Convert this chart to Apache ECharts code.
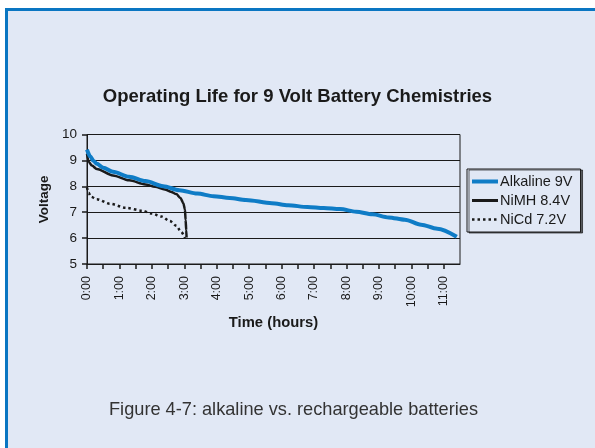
<!DOCTYPE html>
<html>
<head>
<meta charset="utf-8">
<style>
  html, body { margin: 0; padding: 0; background: #ffffff; }
  #chart { width: 595px; height: 448px; }
</style>
<script src="https://cdn.jsdelivr.net/npm/echarts@6/dist/echarts.min.js"></script>
</head>
<body>
<div id="chart"></div>
<script>
// Discharge curves: [hours, volts]
const alkaline9V = [
  [0, 9.42], [0.1, 9.15], [0.2, 8.98], [0.3, 8.87], [0.5, 8.72], [0.8, 8.56],
  [1.3, 8.37], [1.8, 8.2], [2.35, 8.0], [2.85, 7.85], [3.4, 7.72], [3.9, 7.62],
  [4.4, 7.55], [4.9, 7.47], [5.7, 7.35], [6.2, 7.27], [6.8, 7.2], [7.3, 7.16],
  [7.8, 7.12], [8.3, 7.02], [8.8, 6.92], [9.3, 6.8], [9.8, 6.71], [10.3, 6.52],
  [10.8, 6.36], [11.4, 6.05]
];
const nimh84V = [
  [0, 9.25], [0.05, 8.95], [0.15, 8.8], [0.3, 8.67], [0.8, 8.42], [1.3, 8.23],
  [1.8, 8.07], [2.1, 7.98], [2.4, 7.88], [2.6, 7.78], [2.75, 7.7], [2.88, 7.55],
  [2.97, 7.35], [3.02, 7.1], [3.04, 6.7], [3.06, 6.3], [3.07, 6.02]
];
const nicd72V = [
  [0, 7.95], [0.05, 7.75], [0.12, 7.6], [0.3, 7.5], [0.7, 7.33], [1.2, 7.17],
  [1.7, 7.06], [2.0, 6.95], [2.3, 6.83], [2.55, 6.66], [2.75, 6.48], [2.9, 6.25],
  [3.02, 6.0]
];
const seriesNames = ['Alkaline 9V', 'NiMH 8.4V', 'NiCd 7.2V'];
const hourTicks = [0, 1, 2, 3, 4, 5, 6, 7, 8, 9, 10, 11];

const FONT = 'Liberation Sans, Arial, Helvetica, sans-serif';
const FILL = '#e1e8f5';
const legendLineWidths = [4, 3, 2.5];

const chart = echarts.init(document.getElementById('chart'), null, { renderer: 'canvas' });

chart.setOption({
  backgroundColor: 'transparent',
  animation: false,
  graphic: [
    // panel background with blue rule on the top and left
    { type: 'rect', z: -10, shape: { x: 5, y: 8, width: 600, height: 450 }, style: { fill: FILL } },
    { type: 'rect', z: -9, shape: { x: 5, y: 8, width: 600, height: 3 }, style: { fill: '#0a76c2' } },
    { type: 'rect', z: -9, shape: { x: 5, y: 8, width: 3, height: 450 }, style: { fill: '#0a76c2' } },
    {
      type: 'text', left: 109, top: 401,
      style: { text: 'Figure 4-7: alkaline vs. rechargeable batteries', fill: '#333333', font: '18.2px ' + FONT }
    }
  ],
  title: {
    text: 'Operating Life for 9 Volt Battery Chemistries',
    left: 'center', top: 82,
    textStyle: { fontFamily: FONT, fontSize: 18.5, fontWeight: 'bold', color: '#1a1a1a' }
  },
  legend: {
    orient: 'vertical',
    left: 467, top: 169,
    padding: [5, 8, 5, 3],
    itemGap: 4,
    itemWidth: 26, itemHeight: 14,
    borderColor: '#1a1a1a', borderWidth: 1,
    backgroundColor: FILL,
    shadowColor: 'rgba(0,0,0,0.6)', shadowOffsetX: 2, shadowOffsetY: 1, shadowBlur: 0,
    itemStyle: { opacity: 0 },
    textStyle: { fontFamily: FONT, fontSize: 14.5, color: '#1a1a1a', padding: [0, 0, 0, -3] },
    data: seriesNames.map((n, i) => ({ name: n, lineStyle: { width: legendLineWidths[i] } }))
  },
  grid: {
    left: 87, right: 135, top: 134.5, bottom: 184,
    show: true, borderColor: '#1a1a1a', borderWidth: 1, backgroundColor: 'transparent'
  },
  xAxis: {
    type: 'value', min: 0, max: 11.5, interval: 0.5,
    name: 'Time (hours)', nameLocation: 'middle', nameGap: 51,
    nameTextStyle: { fontFamily: FONT, fontSize: 14.8, fontWeight: 'bold', color: '#1a1a1a' },
    axisLine: { show: true, lineStyle: { color: '#1a1a1a', width: 1 } },
    axisTick: { show: true, length: 5, inside: false, lineStyle: { color: '#1a1a1a', width: 1.5 } },
    splitLine: { show: false },
    axisLabel: {
      rotate: 90, margin: 12, fontFamily: FONT, fontSize: 12.5, color: '#1a1a1a',
      showMaxLabel: false,
      formatter: v => (hourTicks.indexOf(v) >= 0 ? v + ':00' : '')
    }
  },
  yAxis: {
    type: 'value', min: 5, max: 10, interval: 1,
    name: 'Voltage', nameLocation: 'middle', nameGap: 34, nameRotate: 90,
    nameTextStyle: { fontFamily: FONT, fontSize: 13.5, fontWeight: 'bold', color: '#1a1a1a' },
    axisLine: { show: true, lineStyle: { color: '#1a1a1a', width: 1 } },
    axisTick: { show: true, length: 5, lineStyle: { color: '#1a1a1a', width: 1.5 } },
    splitLine: { show: true, lineStyle: { color: '#1a1a1a', width: 1.2 } },
    axisLabel: { margin: 10, fontFamily: FONT, fontSize: 13.5, color: '#1a1a1a' }
  },
  series: [
    {
      name: seriesNames[0], type: 'line', data: alkaline9V, symbol: 'none', z: 4,
      smooth: 0.3, smoothMonotone: 'x',
      lineStyle: { color: '#0f7cc6', width: 4 }, itemStyle: { color: '#0f7cc6' }
    },
    {
      name: seriesNames[1], type: 'line', data: nimh84V, symbol: 'none', z: 3,
      smooth: 0.3, smoothMonotone: 'x',
      lineStyle: { color: '#1a1a1a', width: 2.5 }, itemStyle: { color: '#1a1a1a' }
    },
    {
      name: seriesNames[2], type: 'line', data: nicd72V, symbol: 'none', z: 3,
      smooth: 0.3, smoothMonotone: 'x',
      lineStyle: { color: '#1a1a1a', width: 2.5, type: [2.5, 3] }, itemStyle: { color: '#1a1a1a' }
    }
  ]
});
</script>
</body>
</html>
